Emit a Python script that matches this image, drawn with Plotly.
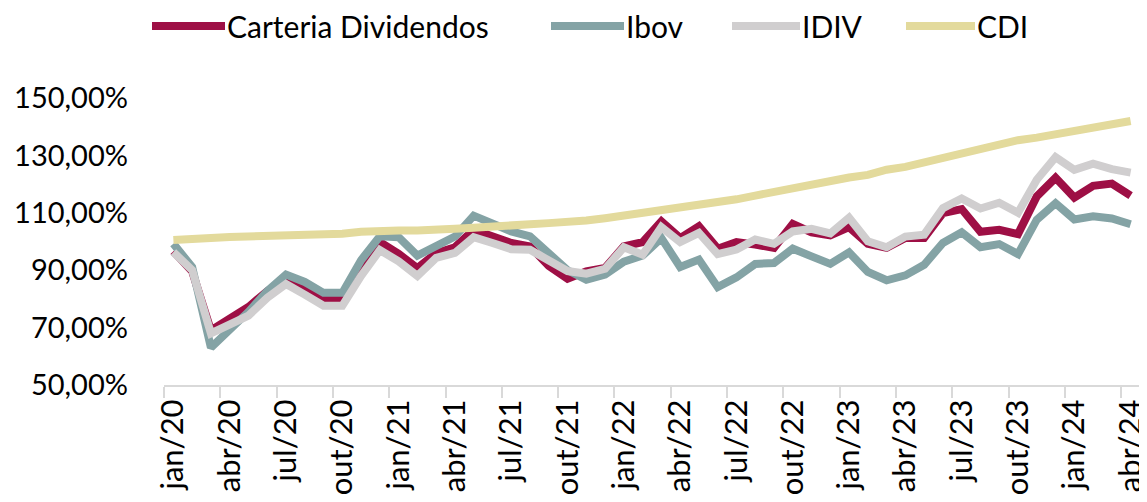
import plotly.graph_objects as go

meses = ["jan", "fev", "mar", "abr", "mai", "jun", "jul", "ago", "set", "out", "nov", "dez"]
categorias = [f"{m}/{a}" for a in ["20", "21", "22", "23"] for m in meses] + ["jan/24", "fev/24", "mar/24", "abr/24"]

carteira = [96.6, 89.6, 69.0, 73.5, 77.2, 82.7, 86.8, 83.6, 79.8, 79.6, 89.7, 99.8,
            95.7, 90.7, 96.0, 98.0, 104.1, 102.0, 99.5, 98.3, 91.5, 87.0, 89.6, 90.8,
            98.3, 99.8, 107.0, 101.2, 105.3, 97.5, 99.8, 98.9, 97.8, 106.1, 103.2, 102.1,
            105.0, 99.2, 97.8, 101.2, 101.2, 109.9, 111.3, 103.4, 104.1, 102.6, 115.7, 122.2,
            115.3, 119.4, 120.2, 116.0]
ibov = [99.2, 91.1, 63.0, 68.8, 75.5, 82.7, 88.5, 85.9, 82.1, 82.1, 93.5, 101.8,
        101.5, 95.1, 98.3, 101.7, 109.0, 106.4, 103.5, 101.8, 95.5, 90.0, 86.7, 88.5,
        93.0, 95.1, 101.2, 91.1, 93.7, 84.1, 87.5, 92.2, 92.5, 97.5, 94.8, 92.2,
        96.2, 89.4, 86.5, 88.2, 91.9, 99.5, 103.2, 98.0, 99.1, 95.6, 107.6, 113.3,
        107.7, 108.8, 108.0, 106.0]
idiv = [96.3, 90.0, 68.0, 70.8, 74.2, 80.4, 85.2, 81.5, 77.6, 77.6, 88.0, 97.0,
        93.1, 88.0, 94.3, 96.0, 101.5, 99.5, 97.3, 97.1, 93.5, 89.7, 88.8, 90.5,
        98.0, 95.4, 105.0, 99.8, 103.0, 95.6, 97.2, 100.7, 99.2, 103.5, 104.4, 102.8,
        108.3, 100.1, 98.0, 101.7, 102.4, 111.6, 115.0, 111.5, 113.5, 110.0, 121.5, 129.4,
        125.0, 127.1, 125.2, 124.0]
cdi = [100.5, 100.6, 101.2, 101.6, 101.7, 102.2, 102.6, 102.7, 102.7, 102.7, 103.4, 103.8,
       103.8, 103.8, 103.9, 104.4, 104.8, 105.0, 105.5, 106.0, 106.4, 106.7, 107.3, 108.1,
       109.0, 109.8, 110.8, 111.6, 112.4, 113.4, 114.7, 116.0, 117.4, 118.5, 119.7, 121.4,
       122.3, 123.2, 125.0, 126.0, 127.6, 128.8, 130.5, 132.4, 133.6, 135.3, 136.2, 137.3,
       138.7, 139.6, 140.5, 142.0]

y_ticks = [50, 70, 90, 110, 130, 150]
y_tick_text = ["50,00%", "70,00%", "90,00%", "110,00%", "130,00%", "150,00%"]

series = [
    ("Carteria Dividendos", carteira, "#9E0F45"),
    ("Ibov", ibov, "#84A3A5"),
    ("IDIV", idiv, "#D0CECF"),
    ("CDI", cdi, "#E3DA9C"),
]

FONT = "Lato, Carlito, Calibri, sans-serif"

fig = go.Figure()
for nome, vals, cor in series:
    fig.add_trace(go.Scatter(x=categorias, y=vals, mode="lines", name=nome,
                             line=dict(color=cor, width=8), showlegend=False))

# the page body has an 8px default margin; size the figure to end at the window edge
OFF = 8
W, H = 1147 - OFF, 502 - OFF
L, R, T, B = 164 - OFF, 7, 98 - OFF, 117
pw, ph = W - L - R, H - T - B

def px_x(p):
    return (p - OFF - L) / pw

def px_y(p):
    return (H - B - (p - OFF)) / ph

legend_items = [("Carteria Dividendos", "#9E0F45", 152, 225),
                ("Ibov", "#84A3A5", 551, 624),
                ("IDIV", "#D0CECF", 732, 800),
                ("CDI", "#E3DA9C", 906, 975)]
shapes, annots = [], []
for nome, cor, x0, x1 in legend_items:
    shapes.append(dict(type="line", xref="paper", yref="paper",
                       x0=px_x(x0), x1=px_x(x1), y0=px_y(26), y1=px_y(26),
                       line=dict(color=cor, width=8)))
    annots.append(dict(xref="paper", yref="paper", x=px_x(x1 + 1), y=px_y(26),
                       text=nome, showarrow=False, xanchor="left", yanchor="middle",
                       borderpad=0,
                       font=dict(family=FONT, size=30, color="#000000")))

fig.update_layout(
    width=W, height=H,
    margin=dict(l=L, r=R, t=T, b=B, pad=0, autoexpand=False),
    paper_bgcolor="white", plot_bgcolor="white",
    font=dict(family=FONT, size=29, color="#000000"),
    shapes=shapes, annotations=annots,
)
fig.update_xaxes(
    type="category", categoryorder="array", categoryarray=categorias,
    range=[-0.5, len(categorias) - 0.5],
    tickmode="array", tickvals=categorias[::3], ticktext=categorias[::3],
    tickson="boundaries", ticks="outside", ticklen=11, tickwidth=2, tickcolor="#D9D9D9",
    showline=True, linecolor="#D9D9D9", linewidth=2, showgrid=False, zeroline=False,
    tickangle=-90, automargin=False, tickfont=dict(family=FONT, size=31, color="#000000"),
)
fig.update_yaxes(
    range=[50, 150], tickmode="array", tickvals=y_ticks, ticktext=y_tick_text,
    showgrid=False, zeroline=False, showline=False, automargin=False,
    ticks="", ticklabelstandoff=35, tickfont=dict(family=FONT, size=29, color="#000000"),
)

fig.write_html("out.html")
